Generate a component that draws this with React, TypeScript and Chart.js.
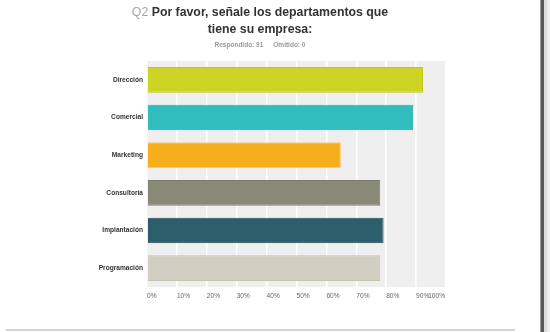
import React, { useEffect, useRef } from "react";
import { Chart, registerables } from "chart.js";

Chart.register(...registerables);

const categories = ["Dirección", "Comercial", "Marketing", "Consultoría", "Implantación", "Programación"];
const percentValues = [92.31, 89.01, 64.84, 78.02, 79.12, 78.02];
const barColors = ["#cdd424", "#31bcbe", "#f6ae1d", "#888978", "#2c5e6b", "#d0cfc1"];
const barBorders = ["#bfc51c", "#2aaeb0", "#f8c873", "#7a7b6c", "#244f5a", "#c3c2b4"];
const xTickLabels = ["0%", "10%", "20%", "30%", "40%", "50%", "60%", "70%", "80%", "90%", "100%"];
const respondedCount = 91;
const omittedCount = 0;

const FONT = "'Liberation Sans', Arial, Helvetica, sans-serif";

const plotBgPlugin = {
  id: "plotBg",
  beforeDraw(chart: any) {
    const { ctx, chartArea } = chart;
    ctx.save();
    ctx.fillStyle = "#efefef";
    ctx.fillRect(chartArea.left, chartArea.top, chartArea.right - chartArea.left, chartArea.bottom - chartArea.top);
    ctx.restore();
  },
};

const xLabelsPlugin = {
  id: "xLabels",
  afterDraw(chart: any) {
    const { ctx, chartArea } = chart;
    const scale = chart.scales.x;
    ctx.save();
    ctx.font = `6.6px ${FONT}`;
    ctx.fillStyle = "#666666";
    ctx.textBaseline = "middle";
    const ticks = scale.ticks;
    ticks.forEach((t: any, i: number) => {
      const x = scale.getPixelForValue(t.value);
      const last = i === ticks.length - 1;
      ctx.textAlign = last ? "right" : "left";
      ctx.fillText(xTickLabels[i] ?? `${t.value}%`, last ? x - 1 : x, chartArea.bottom + 9.5);
    });
    ctx.restore();
  },
};

export default function App() {
  const canvasRef = useRef<HTMLCanvasElement | null>(null);

  useEffect(() => {
    if (!canvasRef.current) return;
    const chart = new Chart(canvasRef.current, {
      type: "bar",
      data: {
        labels: categories,
        datasets: [
          {
            data: percentValues,
            backgroundColor: barColors,
            borderColor: barBorders,
            borderWidth: 1,
            barPercentage: 0.68,
            categoryPercentage: 1,
          },
        ],
      },
      options: {
        indexAxis: "y",
        animation: false,
        responsive: true,
        maintainAspectRatio: false,
        layout: { padding: { left: 0, right: 104, top: 61, bottom: 45 } },
        plugins: {
          legend: { display: false },
          tooltip: { enabled: false },
          title: { display: false },
        },
        scales: {
          x: {
            min: 0,
            max: 100,
            ticks: { stepSize: 10, display: false },
            grid: { color: "#ffffff", lineWidth: 1.5, drawTicks: false },
            border: { display: false },
          },
          y: {
            grid: { display: false, drawTicks: false },
            border: { display: false },
            ticks: {
              padding: 4,
              color: "#333333",
              font: { family: FONT, size: 6.6, weight: "bold" },
            },
            afterFit(scale: any) {
              scale.width = 147;
            },
          },
        },
      },
      plugins: [plotBgPlugin, xLabelsPlugin],
    });
    return () => chart.destroy();
  }, []);

  return (
    <div style={{ position: "absolute", left: 0, top: 0, width: 550, height: 332, background: "#ffffff", overflow: "hidden" }}>
      <div style={{ position: "absolute", left: 0, top: 0, width: 550, height: 332 }}>
        <canvas ref={canvasRef} />
      </div>
      <div
        style={{
          position: "absolute",
          left: 0,
          top: 3.7,
          width: 520,
          textAlign: "center",
          fontFamily: FONT,
          fontWeight: "bold",
          fontSize: 12.3,
          lineHeight: "17.5px",
          color: "#333333",
        }}
      >
        <span style={{ color: "#a6a6a6", fontWeight: "normal" }}>Q2</span> Por favor, señale los departamentos que
        <br />
        tiene su empresa:
      </div>
      <div
        style={{
          position: "absolute",
          left: 0,
          top: 39.75,
          width: 520,
          textAlign: "center",
          fontFamily: FONT,
          fontWeight: "bold",
          fontSize: 6.5,
          lineHeight: "10px",
          color: "#9a9a9a",
          whiteSpace: "pre",
        }}
      >
        {`Respondido: ${respondedCount}`}
        <span style={{ display: "inline-block", width: 10 }} />
        {`Omitido: ${omittedCount}`}
      </div>
      <div style={{ position: "absolute", left: 6, top: 329, width: 509, height: 2, background: "#d4d4d4" }} />
      <div style={{ position: "absolute", left: 540, top: 0, width: 1, height: 332, background: "#9a9a9a" }} />
      <div style={{ position: "absolute", left: 541, top: 0, width: 3, height: 332, background: "#585858" }} />
      <div style={{ position: "absolute", left: 544, top: 0, width: 3, height: 332, background: "#dcdcdc" }} />
      <div style={{ position: "absolute", left: 547, top: 0, width: 3, height: 332, background: "#eeeeee" }} />
    </div>
  );
}
